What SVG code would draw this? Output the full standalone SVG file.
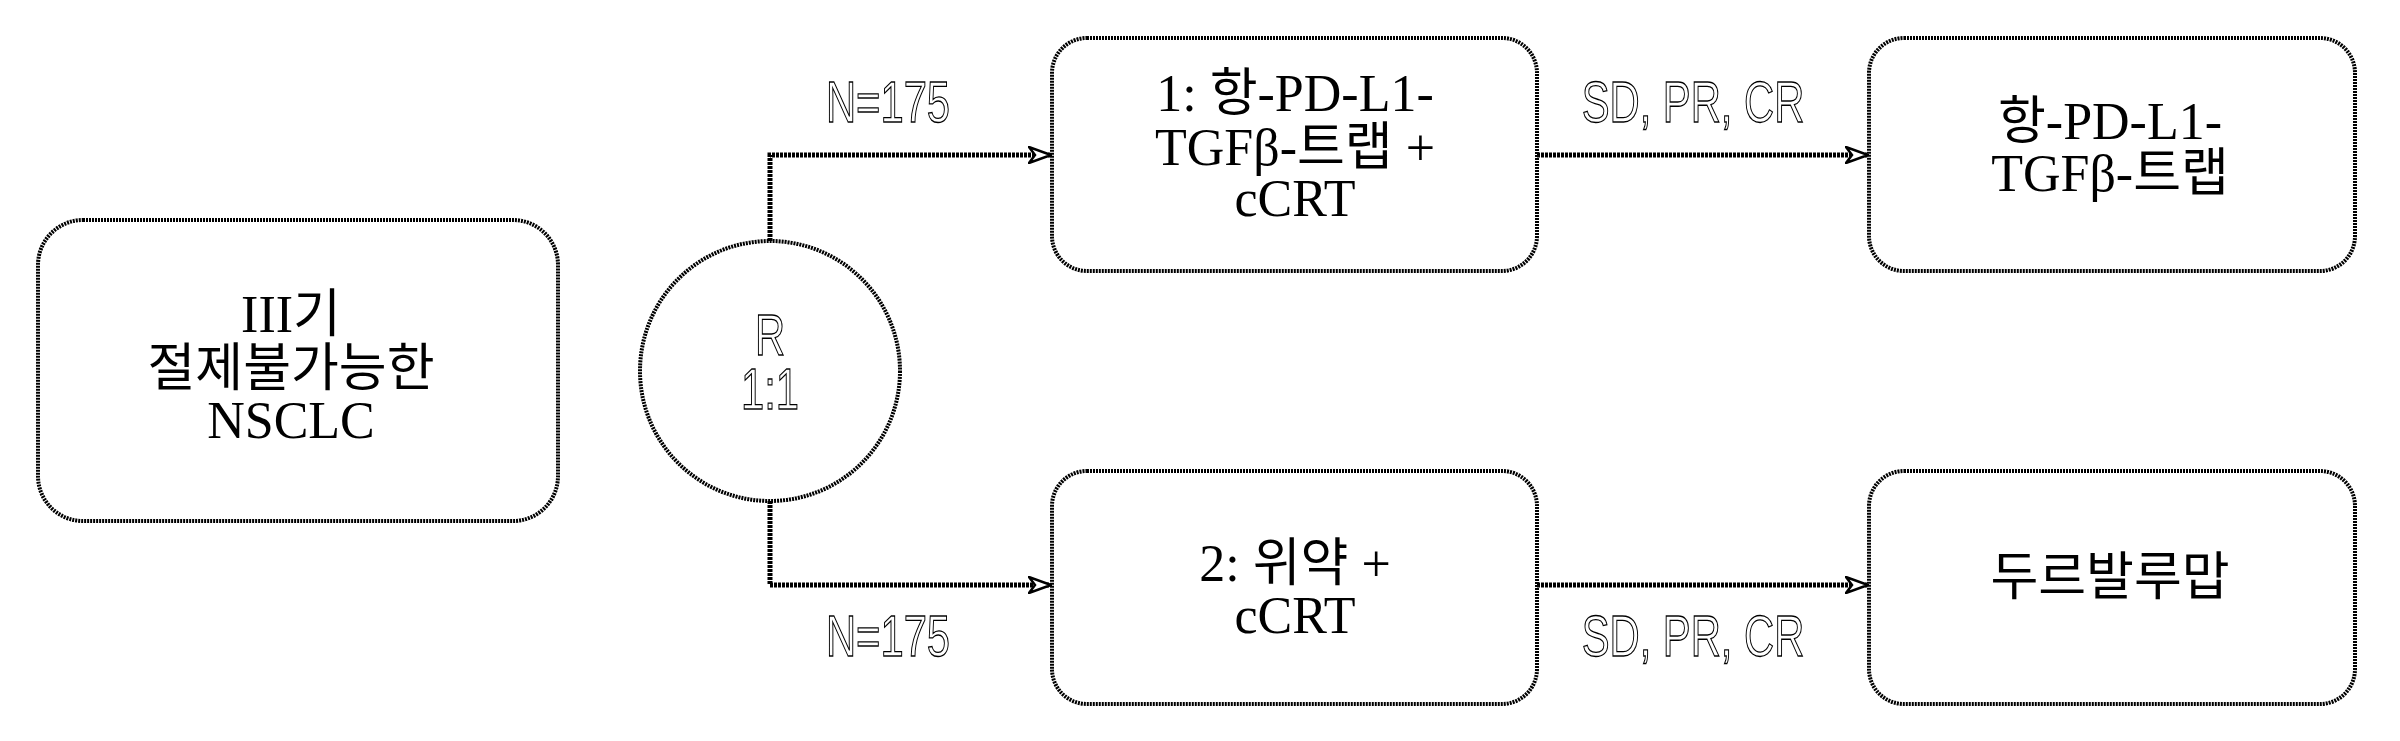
<svg xmlns="http://www.w3.org/2000/svg" width="2400" height="741" viewBox="0 0 2400 741">
<style>
.box{fill:#fff;stroke:#000;stroke-width:4;stroke-dasharray:2 1}
.t{font-family:"Liberation Serif","Noto Sans CJK KR",serif;font-size:52px;text-anchor:middle;fill:#000}
.s{font-family:"Liberation Sans","Noto Sans CJK KR",sans-serif;font-size:58px;text-anchor:middle;fill:#fff;stroke:#000;stroke-width:1.3}
.c{fill:none;stroke:#000;stroke-width:5;stroke-dasharray:3 1}
</style>
<defs>
<marker id="a" markerWidth="24" markerHeight="18" refX="22" refY="9" orient="auto" markerUnits="userSpaceOnUse" viewBox="0 0 24 18">
<path d="M1,1 L23,9 L1,17 L7,9 Z" fill="#fff" stroke="#000" stroke-width="2.5"/>
</marker>
</defs>
<g id="connectors">
<path class="c" d="M770,241 V155 H1050" marker-end="url(#a)"/>
<path class="c" d="M770,501 V585 H1050" marker-end="url(#a)"/>
<path class="c" d="M1537,155 H1867" marker-end="url(#a)"/>
<path class="c" d="M1537,585 H1867" marker-end="url(#a)"/>
<text class="s" x="888" y="122" transform="translate(888 0) scale(0.72 1) translate(-888 0)">N=175</text>
<text class="s" x="888" y="656" transform="translate(888 0) scale(0.72 1) translate(-888 0)">N=175</text>
<text class="s" x="1693" y="122" transform="translate(1693 0) scale(0.72 1) translate(-1693 0)">SD, PR, CR</text>
<text class="s" x="1693" y="656" transform="translate(1693 0) scale(0.72 1) translate(-1693 0)">SD, PR, CR</text>
</g>
<g id="start">
<rect class="box" x="38" y="220" width="520" height="301" rx="45"/>
<text class="t" x="291" y="332">III기</text>
<text class="t" x="291" y="386">절제불가능한</text>
<text class="t" x="291" y="438">NSCLC</text>
</g>
<g id="rand">
<circle class="box" cx="770" cy="371" r="130"/>
<text class="s" x="770" y="355" transform="translate(770 0) scale(0.72 1) translate(-770 0)">R</text>
<text class="s" x="770" y="409" transform="translate(770 0) scale(0.72 1) translate(-770 0)">1:1</text>
</g>
<g id="arm1">
<rect class="box" x="1052" y="38" width="485" height="233" rx="35"/>
<text class="t" x="1295" y="111">1: 항-PD-L1-</text>
<text class="t" x="1295" y="165">TGFβ-트랩 +</text>
<text class="t" x="1295" y="216">cCRT</text>
</g>
<g id="arm2">
<rect class="box" x="1052" y="471" width="485" height="233" rx="35"/>
<text class="t" x="1295" y="581">2: 위약 +</text>
<text class="t" x="1295" y="633">cCRT</text>
</g>
<g id="out1">
<rect class="box" x="1869" y="38" width="486" height="233" rx="35"/>
<text class="t" x="2110" y="139">항-PD-L1-</text>
<text class="t" x="2110" y="191">TGFβ-트랩</text>
</g>
<g id="out2">
<rect class="box" x="1869" y="471" width="486" height="233" rx="35"/>
<text class="t" x="2110" y="595">두르발루맙</text>
</g>
</svg>
